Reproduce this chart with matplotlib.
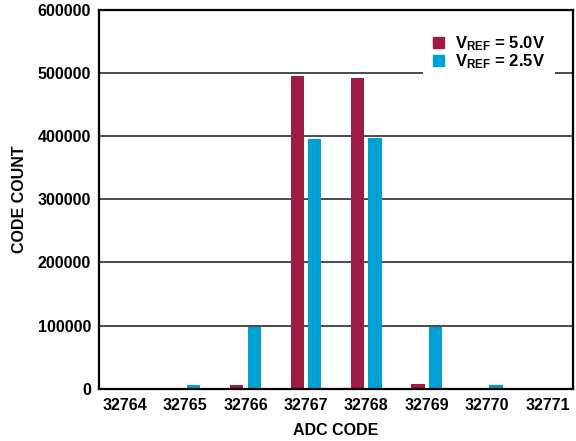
import numpy as np
import matplotlib
matplotlib.use("Agg")
import matplotlib.pyplot as plt
from matplotlib.patches import Patch

codes = ["32764", "32765", "32766", "32767", "32768", "32769", "32770", "32771"]
count_5v0 = [0, 0, 6500, 496000, 492000, 7000, 0, 0]
count_2v5 = [1500, 5800, 98400, 395700, 397300, 98400, 5800, 1800]
y_ticks = [0, 100000, 200000, 300000, 400000, 500000, 600000]

red = "#9E1B42"
blue = "#009FD4"

plt.rcParams['font.family'] = ['Liberation Sans', 'DejaVu Sans']
plt.rcParams['font.weight'] = 'bold'
plt.rcParams['mathtext.fontset'] = 'custom'
plt.rcParams['mathtext.rm'] = 'Liberation Sans:bold'
plt.rcParams['mathtext.it'] = 'Liberation Sans:bold'
plt.rcParams['mathtext.bf'] = 'Liberation Sans:bold'

fig = plt.figure(figsize=(5.76, 4.41), dpi=100)
ax = fig.add_axes([0.1724, 0.1186, 0.8224, 0.8587])

x = np.arange(len(codes))
w = 0.22
off = 0.144
ax.bar(x - off, count_5v0, w, color=red, zorder=3)
ax.bar(x + off, count_2v5, w, color=blue, zorder=3)

ax.set_xlim(-0.42, 7.42)
ax.set_ylim(0, 600000)
ax.set_xticks(x)
ax.set_xticklabels(codes)
ax.set_yticks(y_ticks)
ax.set_yticklabels([str(v) for v in y_ticks])
ax.tick_params(axis='x', length=0, pad=7, labelsize=11.5)
ax.tick_params(axis='y', length=0, pad=6, labelsize=11.5)

# grid lines behind the bars
for v in y_ticks[1:-1]:
    ax.axhline(v, color="#4a4a4a", lw=1.4, zorder=1)

for s in ax.spines.values():
    s.set_linewidth(1.6)
    s.set_color("black")
    s.set_zorder(4)

ax.set_xlabel("ADC CODE", fontsize=11.5, fontweight='bold')
ax.set_ylabel("CODE COUNT", fontsize=11.5, fontweight='bold')
ax.xaxis.set_label_coords(0.5, -0.09)
ax.yaxis.set_label_coords(-0.153, 0.5)

handles = [Patch(color=red), Patch(color=blue)]
labels = [r"$\mathrm{V_{REF}}$ = 5.0V", r"$\mathrm{V_{REF}}$ = 2.5V"]
leg = ax.legend(handles, labels, loc="upper left", bbox_to_anchor=(0.683, 0.963),
                frameon=True, fancybox=False, framealpha=1, edgecolor="none",
                facecolor="white", fontsize=12, handlelength=0.65,
                handleheight=0.65, handletextpad=0.7, labelspacing=0.0,
                borderpad=0.6, borderaxespad=0)
leg.set_zorder(5)

fig.savefig("out.png", dpi=100)
